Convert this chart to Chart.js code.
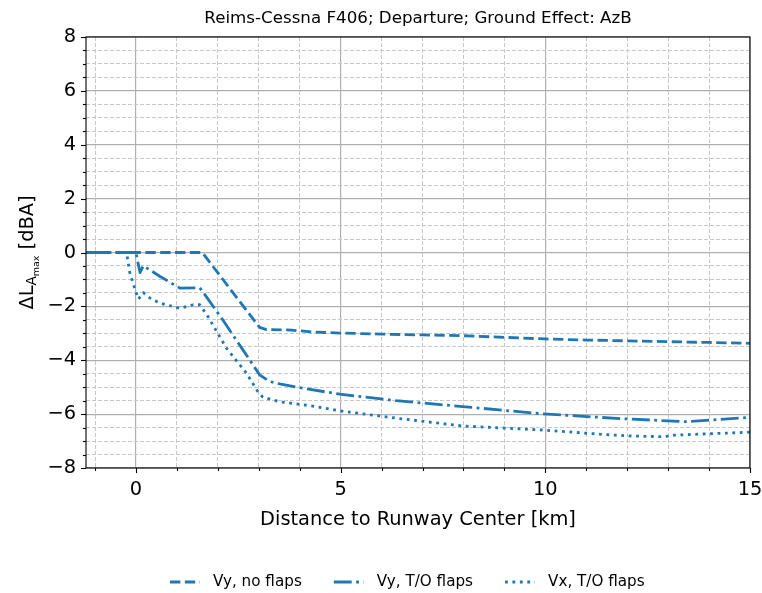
<!DOCTYPE html>
<html>
<head>
<meta charset="utf-8">
<script src="https://cdn.jsdelivr.net/npm/chart.js@4.4.1/dist/chart.umd.min.js"></script>
<style>
  html, body { margin: 0; padding: 0; background: #ffffff; }
  #wrap { width: 762px; height: 593px; position: relative; }
</style>
</head>
<body>
<div id="wrap"><canvas id="c" width="762" height="593"></canvas></div>
<script>
// Text
const titleText = 'Reims-Cessna F406; Departure; Ground Effect: AzB';
const xAxisTitle = 'Distance to Runway Center [km]';
const seriesLabels = ['Vy, no flaps', 'Vy, T/O flaps', 'Vx, T/O flaps'];

// Tick labels
const xTickLabels = [0, 5, 10, 15];
const yTickLabels = [-8, -6, -4, -2, 0, 2, 4, 6, 8];

// Vy, no flaps
const distVyNoFlaps = [-1.22, 1.62, 3.02, 3.19, 3.8, 4.3, 5, 6, 7, 8, 9, 10, 11, 12, 13, 14, 15];
const dlVyNoFlaps   = [0, 0, -2.78, -2.86, -2.88, -2.95, -2.99, -3.03, -3.06, -3.09, -3.15, -3.21, -3.25, -3.28, -3.31, -3.34, -3.37];

// Vy, T/O flaps
const distVyTOFlaps = [-1.22, 0, 0.1, 0.18, 0.59, 1.07, 1.56, 1.63, 2.12, 2.58, 3.02, 3.27, 3.51, 4.0, 4.98, 6.36, 7.98, 9.93, 11.88, 13.43, 15];
const dlVyTOFlaps   = [0, 0, -0.75, -0.49, -0.89, -1.32, -1.31, -1.45, -2.5, -3.54, -4.54, -4.79, -4.88, -5.02, -5.26, -5.5, -5.72, -5.99, -6.17, -6.28, -6.12];

// Vx, T/O flaps
const distVxTOFlaps = [-1.22, -0.23, -0.15, -0.02, 0.06, 0.18, 0.34, 0.59, 1.07, 1.4, 1.56, 1.76, 2.21, 2.7, 2.98, 3.1, 3.51, 4.32, 4.98, 6.36, 7.98, 9.93, 11.39, 12.05, 12.9, 13.15, 15];
const dlVxTOFlaps   = [0, 0, -0.75, -1.38, -1.73, -1.49, -1.69, -1.88, -2.07, -1.94, -1.94, -2.38, -3.55, -4.48, -5.17, -5.37, -5.54, -5.7, -5.88, -6.15, -6.44, -6.59, -6.75, -6.81, -6.84, -6.78, -6.67];

const FONT = "'DejaVu Sans', 'Liberation Sans', sans-serif";
const BLUE = '#1f77b4';
const LW = 2.8;
const dashes = [
  [3.7 * LW, 1.6 * LW],
  [6.4 * LW, 1.6 * LW, 1 * LW, 1.6 * LW],
  [1 * LW, 1.65 * LW]
];

function pts(xs, ys) { return xs.map((x, i) => ({ x: x, y: ys[i] })); }
const seriesData = [
  pts(distVyNoFlaps, dlVyNoFlaps),
  pts(distVyTOFlaps, dlVyTOFlaps),
  pts(distVxTOFlaps, dlVxTOFlaps)
];

const minus = s => String(s).replace('-', '\u2212');

// Frame, tick marks, titles and legend
const decorations = {
  id: 'decorations',
  afterDraw(chart) {
    const ctx = chart.ctx;
    const a = chart.chartArea;
    const xs = chart.scales.x, ys = chart.scales.y;
    ctx.save();
    ctx.strokeStyle = '#000000';
    ctx.lineWidth = 1.1;
    // tick marks
    xs.ticks.forEach(t => {
      const px = Math.round(xs.getPixelForValue(t.value)) + 0.5;
      const len = xTickLabels.includes(t.value) ? 5 : 3;
      ctx.beginPath(); ctx.moveTo(px, a.bottom); ctx.lineTo(px, a.bottom + len); ctx.stroke();
    });
    ys.ticks.forEach(t => {
      const py = Math.round(ys.getPixelForValue(t.value)) + 0.5;
      const len = yTickLabels.includes(t.value) ? 5 : 3;
      ctx.beginPath(); ctx.moveTo(a.left, py); ctx.lineTo(a.left - len, py); ctx.stroke();
    });
    // spines
    ctx.strokeRect(a.left, a.top, a.right - a.left, a.bottom - a.top);

    // title
    ctx.fillStyle = '#000000';
    ctx.textAlign = 'center';
    ctx.textBaseline = 'alphabetic';
    ctx.font = '16.7px ' + FONT;
    ctx.fillText(titleText, (a.left + a.right) / 2, 23);

    // x axis title
    ctx.font = '19.4px ' + FONT;
    ctx.fillText(xAxisTitle, (a.left + a.right) / 2, 525);

    // y axis title with nested subscripts
    ctx.save();
    ctx.translate(33, (a.top + a.bottom) / 2);
    ctx.rotate(-Math.PI / 2);
    ctx.textAlign = 'left';
    const parts = [
      { t: '\u0394L', size: 19.4, dy: 0 },
      { t: 'A', size: 13.6, dy: 2.5 },
      { t: 'max', size: 9.5, dy: 5.5 },
      { t: ' [dBA]', size: 19.4, dy: 0 }
    ];
    let total = 0;
    parts.forEach(p => { ctx.font = p.size + 'px ' + FONT; p.w = ctx.measureText(p.t).width; total += p.w; });
    let x = -total / 2;
    parts.forEach(p => { ctx.font = p.size + 'px ' + FONT; ctx.fillText(p.t, x, p.dy); x += p.w; });
    ctx.restore();

    // legend
    ctx.font = '15.2px ' + FONT;
    ctx.textAlign = 'left';
    ctx.textBaseline = 'middle';
    const ly = 582;
    let lx = 170;
    chart.data.datasets.forEach(ds => {
      ctx.save();
      ctx.strokeStyle = ds.borderColor;
      ctx.lineWidth = ds.borderWidth;
      ctx.lineCap = 'butt';
      ctx.setLineDash(ds.borderDash);
      ctx.beginPath(); ctx.moveTo(lx, ly); ctx.lineTo(lx + 30, ly); ctx.stroke();
      ctx.restore();
      ctx.fillText(ds.label, lx + 43, ly);
      lx += 43 + ctx.measureText(ds.label).width + 32;
    });
    ctx.restore();
  }
};

new Chart(document.getElementById('c'), {
  type: 'line',
  data: {
    datasets: seriesData.map((d, i) => ({
      label: seriesLabels[i],
      data: d,
      borderColor: BLUE,
      borderWidth: LW,
      borderDash: dashes[i],
      borderCapStyle: 'butt',
      borderJoinStyle: 'round',
      pointRadius: 0,
      tension: 0,
      fill: false
    }))
  },
  options: {
    responsive: false,
    animation: false,
    devicePixelRatio: 1,
    layout: { padding: { left: 0, right: 12, top: 37, bottom: 95 } },
    plugins: { legend: { display: false }, title: { display: false }, tooltip: { enabled: false } },
    scales: {
      x: {
        type: 'linear',
        min: -1.22,
        max: 15,
        afterFit(s) { s.height = 30; s.paddingLeft = 0; s.paddingRight = 0; },
        afterBuildTicks(s) {
          const t = [];
          for (let v = -1; v <= 15; v++) t.push({ value: v });
          s.ticks = t;
        },
        ticks: {
          autoSkip: false,
          maxRotation: 0,
          padding: 10,
          color: '#000000',
          font: { family: FONT, size: 19.4 },
          callback: v => xTickLabels.includes(v) ? minus(v) : ''
        },
        grid: {
          drawTicks: false,
          color: c => (c.tick && c.tick.value % 5 === 0) ? '#b0b0b0' : '#c8c8c8',
          lineWidth: c => (c.tick && c.tick.value % 5 === 0) ? 1.2 : 1
        },
        border: {
          display: false,
          dash: c => (c.tick && c.tick.value % 5 !== 0) ? [4, 2] : []
        }
      },
      y: {
        type: 'linear',
        min: -8,
        max: 8,
        afterFit(s) { s.width = 86; s.paddingTop = 0; s.paddingBottom = 0; },
        afterBuildTicks(s) {
          const t = [];
          for (let v = -8; v <= 8; v += 0.5) t.push({ value: v });
          s.ticks = t;
        },
        ticks: {
          autoSkip: false,
          padding: 10,
          color: '#000000',
          font: { family: FONT, size: 19.4 },
          callback: v => yTickLabels.includes(v) ? minus(v) : ''
        },
        grid: {
          drawTicks: false,
          color: c => (c.tick && c.tick.value % 2 === 0) ? '#b0b0b0' : '#c8c8c8',
          lineWidth: c => (c.tick && c.tick.value % 2 === 0) ? 1.2 : 1
        },
        border: {
          display: false,
          dash: c => (c.tick && c.tick.value % 2 !== 0) ? [4, 2] : []
        }
      }
    }
  },
  plugins: [decorations]
});
</script>
</body>
</html>
